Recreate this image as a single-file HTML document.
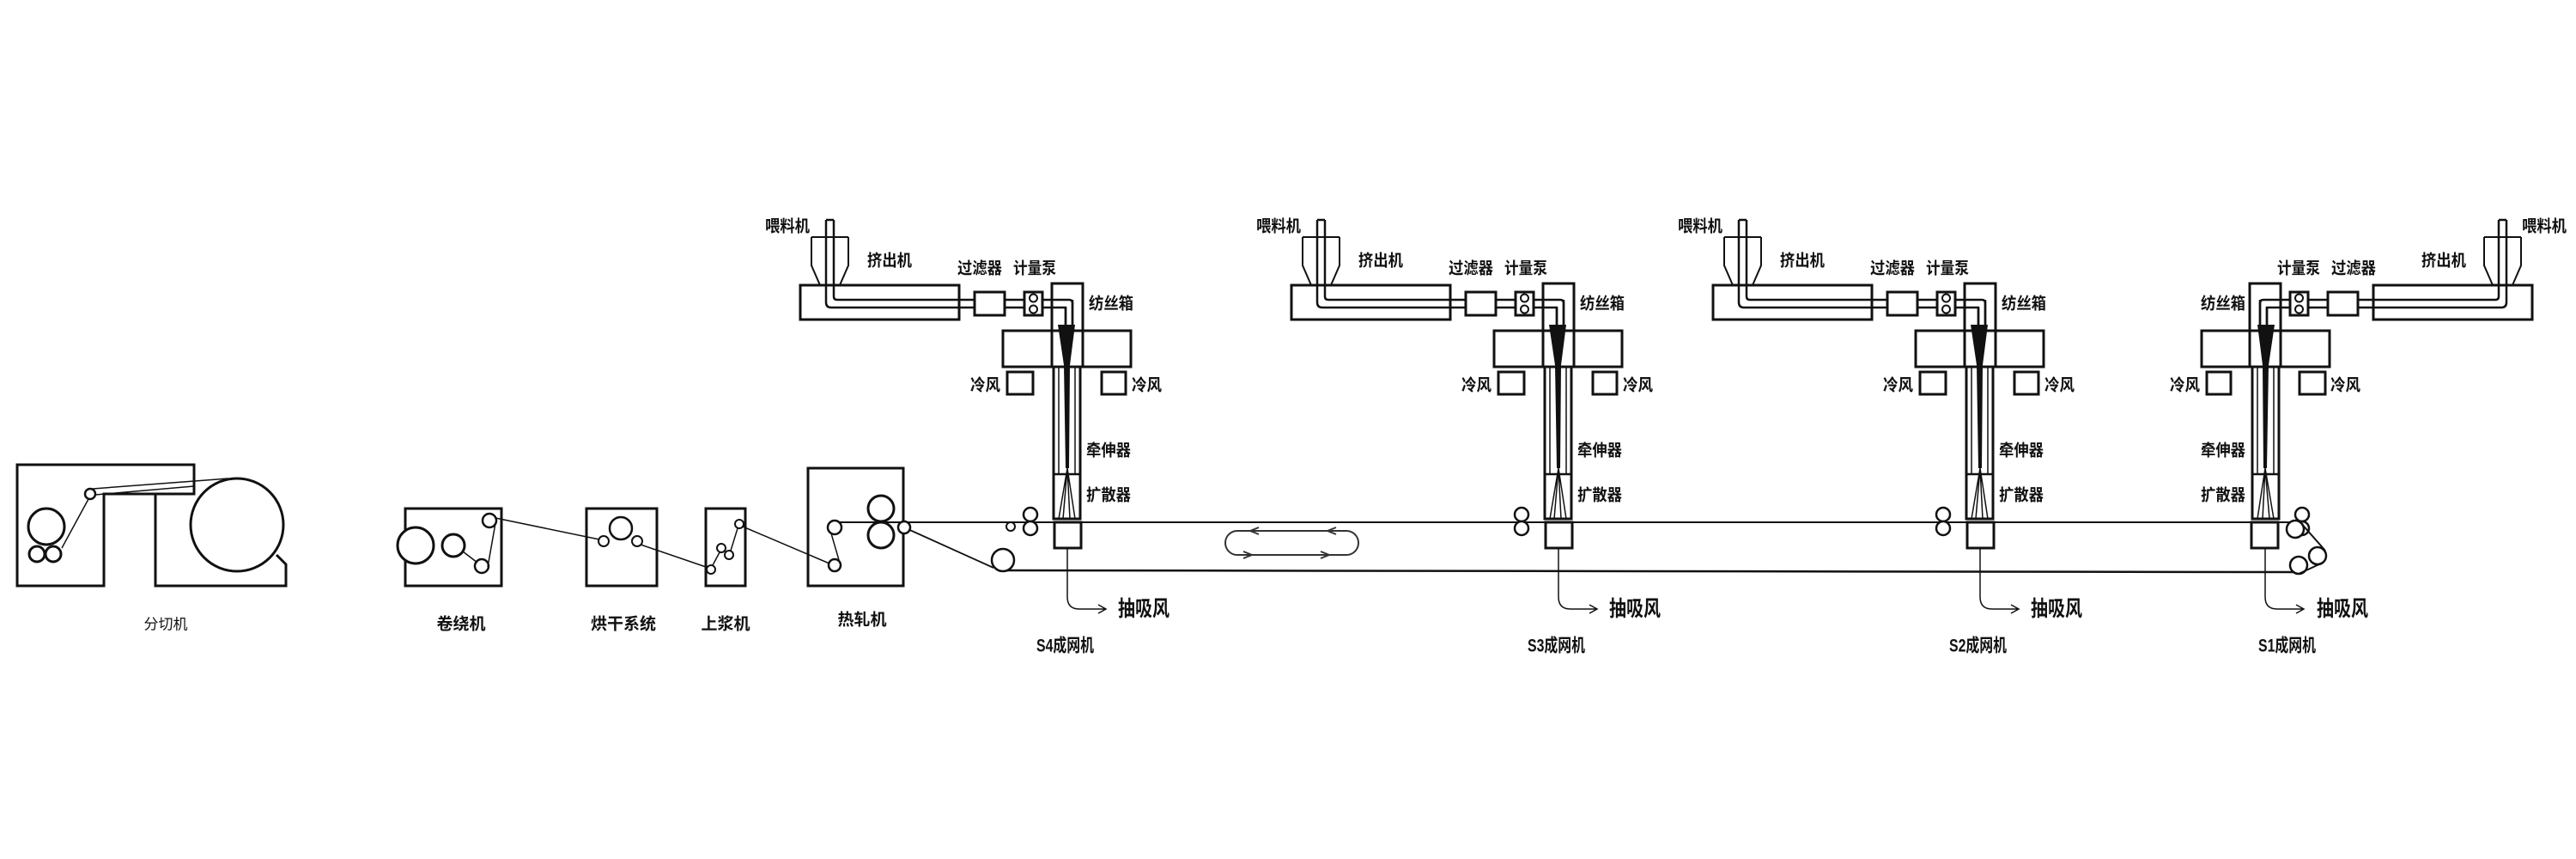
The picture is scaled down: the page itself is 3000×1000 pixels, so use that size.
<!DOCTYPE html>
<html><head><meta charset="utf-8"><style>
html,body{margin:0;padding:0;background:#fff;}
svg{display:block;}
text{font-family:"Liberation Sans","Noto Sans CJK SC","WenQuanYi Zen Hei",sans-serif;font-weight:bold;fill:#111;dominant-baseline:central;}
</style></head><body>
<svg width="3000" height="1000" viewBox="0 0 3000 1000" xmlns="http://www.w3.org/2000/svg">
<defs>
<g id="unit" fill="none" stroke="#111">
  <path d="M-298,276 L-255,276 M-298,276 L-298,309 L-288,332 M-255,276 L-255,309 L-265,332" stroke-width="2"/>
  <rect x="-311" y="332" width="185" height="40" stroke-width="3" fill="#fff"/>
  <path d="M-281,256 L-272,256 M-281,256 L-281,352 Q-281,358 -275,358 L-2,358 L-2,380 M-272,256 L-272,345 Q-272,349 -268,349 L2,349 Q6,349 6,353 L6,380" stroke-width="2.5"/>
  <rect x="-108" y="340" width="35" height="27" stroke-width="3" fill="#fff"/>
  <rect x="-50" y="340" width="21" height="27" stroke-width="3" fill="#fff"/>
  <circle cx="-39.5" cy="347" r="4.5" stroke-width="2"/>
  <circle cx="-39.5" cy="360" r="4.5" stroke-width="2"/>
  <path d="M-18,385 L-18,330 L18,330 L18,385" stroke-width="3"/>
  <path d="M-2,358 L-2,380 M6,349 L6,380" stroke-width="2.5"/>
  <rect x="-75" y="385" width="149" height="42" stroke-width="3"/>
  <path d="M-18,385 L-18,427 M18,385 L18,427" stroke-width="3"/>
  <rect x="-70" y="433" width="30" height="26" stroke-width="3"/>
  <rect x="40" y="433" width="28" height="26" stroke-width="3"/>
  <rect x="-16" y="427" width="31" height="177" stroke-width="3"/>
  <path d="M-16,552 L15,552" stroke-width="2.5"/>
  <path d="M-10,427 L-10,552 M9,427 L9,552" stroke-width="1.5"/>
  <polygon points="-11,378 9,378 3,425 2,545 -2,545 -4,425" fill="#111" stroke="none"/>
  <path d="M0,545 L-10,604 M0,545 L-5,604 M0,545 L3,604 M0,545 L9,604" stroke-width="1.5"/>
  <rect x="-15" y="608" width="31" height="30" stroke-width="3" fill="#fff"/>
  <circle cx="-43" cy="599" r="8" stroke-width="2.5" fill="#fff"/>
  <circle cx="-43" cy="615" r="8" stroke-width="2.5" fill="#fff"/>
</g>
<g id="suc" fill="none" stroke="#111">
  <path d="M0,638 L0,695 Q0,709 14,709 L45,709 M36,704 L45,709 L36,714" stroke-width="1.5"/>
</g>
</defs>

<path d="M972,608 L2673,608" stroke="#111" stroke-width="2" fill="none"/>
<path d="M1168,664 L2677,666" stroke="#111" stroke-width="2.5" fill="none"/>
<path d="M1053,614 L1157,661" stroke="#111" stroke-width="1.8" fill="none"/>

<use href="#unit" transform="translate(1243,0)"/>
<use href="#unit" transform="translate(1815,0)"/>
<use href="#unit" transform="translate(2306,0)"/>
<use href="#unit" transform="translate(2638,0) scale(-1,1)"/>
<use href="#suc" transform="translate(1243,0)"/>
<use href="#suc" transform="translate(1815,0)"/>
<use href="#suc" transform="translate(2306,0)"/>
<use href="#suc" transform="translate(2638,0)"/>

<g fill="#fff" stroke="#111" stroke-width="2.5">
  <circle cx="1177" cy="613" r="5" stroke-width="2"/>
  <circle cx="1168" cy="652" r="13"/>
  <circle cx="2673" cy="616" r="10"/>
  <circle cx="2699" cy="647" r="10"/>
  <circle cx="2677" cy="658" r="10"/>
</g>
<path d="M2678,607 L2708,641 M2703,656 L2677,668" stroke="#111" stroke-width="2" fill="none"/>

<g stroke="#333" stroke-width="2" fill="none">
  <path d="M1441,618 L1568,618 A14,14 0 0 1 1568,646 L1441,646 A14,14 0 0 1 1441,618 Z"/>
  <path d="M1466,614 L1456,618 L1466,622 M1556,614 L1546,618 L1556,622"/>
  <path d="M1448,642 L1458,646 L1448,650 M1538,642 L1548,646 L1538,650"/>
</g>

<g fill="none" stroke="#111" stroke-width="3">
  <path d="M20,541 L226,541 L226,575 L121,575 L121,682 L20,682 Z" stroke-width="3"/>
  <path d="M181,575 L226,575 M181,575 L181,682 L333,682 L333,657 L322,646" />
  <circle cx="276" cy="611" r="54" fill="#fff"/>
  <circle cx="54" cy="613" r="21"/>
  <circle cx="43" cy="645" r="9" fill="#fff"/>
  <circle cx="62" cy="645" r="9" fill="#fff"/>
  <circle cx="105" cy="575" r="6" fill="#fff" stroke-width="2.5"/>
  <path d="M108,569 L266,557 M111,576 L226,566 M103,581 L72,638" stroke-width="1.5"/>
</g>

<g fill="none" stroke="#111" stroke-width="3">
  <rect x="472" y="592" width="112" height="90"/>
  <circle cx="484" cy="635" r="21" fill="#fff"/>
  <circle cx="528" cy="635" r="13" fill="#fff"/>
  <circle cx="570" cy="606" r="8" fill="#fff" stroke-width="2.5"/>
  <circle cx="561" cy="659" r="8" fill="#fff" stroke-width="2.5"/>
  <path d="M539,642 L556,655 M568,660 L577,609 M577,603 L698,628" stroke-width="1.5"/>
</g>

<g fill="none" stroke="#111" stroke-width="3">
  <rect x="683" y="592" width="82" height="90"/>
  <circle cx="723" cy="615" r="13" stroke-width="2.5"/>
  <circle cx="703" cy="630" r="6" fill="#fff" stroke-width="2"/>
  <circle cx="742" cy="630" r="6" fill="#fff" stroke-width="2"/>
  <path d="M746,634 L825,661" stroke-width="1.5"/>
</g>

<g fill="none" stroke="#111" stroke-width="3">
  <rect x="822" y="592" width="46" height="90"/>
  <circle cx="828" cy="663" r="5" fill="#fff" stroke-width="2"/>
  <circle cx="840" cy="638" r="5" fill="#fff" stroke-width="2"/>
  <circle cx="849" cy="646" r="5" fill="#fff" stroke-width="2"/>
  <circle cx="861" cy="610" r="5" fill="#fff" stroke-width="2"/>
  <path d="M830,658 L838,643 M851,641 L859,615 M865,613 L966,656" stroke-width="1.5"/>
</g>

<g fill="none" stroke="#111" stroke-width="3">
  <rect x="941" y="545" width="111" height="137"/>
  <circle cx="1026" cy="592" r="15" fill="#fff"/>
  <circle cx="1026" cy="623" r="15" fill="#fff"/>
  <path d="M979,608 L1011,608" stroke-width="2"/>
  <circle cx="972" cy="614" r="8" fill="#fff" stroke-width="2.5"/>
  <circle cx="972" cy="658" r="7" fill="#fff" stroke-width="2.5"/>
  <circle cx="1053" cy="614" r="7" fill="#fff" stroke-width="2.5"/>
  <path d="M968,621 L977,652" stroke-width="1.5"/>
</g>

<text x="193" y="727" text-anchor="middle" font-size="17" style="font-weight:normal">分切机</text>
<text x="537" y="727" text-anchor="middle" font-size="19">卷绕机</text>
<text x="726" y="727" text-anchor="middle" font-size="19">烘干系统</text>
<text x="845" y="727" text-anchor="middle" font-size="19">上浆机</text>
<text x="1004" y="722" text-anchor="middle" font-size="19">热轧机</text>

<g font-size="19">
<text x="891" y="264" textLength="52" lengthAdjust="spacingAndGlyphs">喂料机</text>
<text x="1010" y="304" textLength="52" lengthAdjust="spacingAndGlyphs">挤出机</text>
<text x="1115" y="313" textLength="52" lengthAdjust="spacingAndGlyphs">过滤器</text>
<text x="1180" y="313" textLength="50" lengthAdjust="spacingAndGlyphs">计量泵</text>
<text x="1268" y="354" textLength="52" lengthAdjust="spacingAndGlyphs">纺丝箱</text>
<text x="1130" y="449" textLength="35" lengthAdjust="spacingAndGlyphs">冷风</text>
<text x="1318" y="449" textLength="35" lengthAdjust="spacingAndGlyphs">冷风</text>
<text x="1265" y="525" textLength="52" lengthAdjust="spacingAndGlyphs">牵伸器</text>
<text x="1265" y="577" textLength="52" lengthAdjust="spacingAndGlyphs">扩散器</text>
<text x="1302" y="709" font-size="25" textLength="60" lengthAdjust="spacingAndGlyphs">抽吸风</text>
<text x="1207" y="752" font-size="21" textLength="67" lengthAdjust="spacingAndGlyphs">S4成网机</text>
</g>
<g font-size="19">
<text x="1463" y="264" textLength="52" lengthAdjust="spacingAndGlyphs">喂料机</text>
<text x="1582" y="304" textLength="52" lengthAdjust="spacingAndGlyphs">挤出机</text>
<text x="1687" y="313" textLength="52" lengthAdjust="spacingAndGlyphs">过滤器</text>
<text x="1752" y="313" textLength="50" lengthAdjust="spacingAndGlyphs">计量泵</text>
<text x="1840" y="354" textLength="52" lengthAdjust="spacingAndGlyphs">纺丝箱</text>
<text x="1702" y="449" textLength="35" lengthAdjust="spacingAndGlyphs">冷风</text>
<text x="1890" y="449" textLength="35" lengthAdjust="spacingAndGlyphs">冷风</text>
<text x="1837" y="525" textLength="52" lengthAdjust="spacingAndGlyphs">牵伸器</text>
<text x="1837" y="577" textLength="52" lengthAdjust="spacingAndGlyphs">扩散器</text>
<text x="1874" y="709" font-size="25" textLength="60" lengthAdjust="spacingAndGlyphs">抽吸风</text>
<text x="1779" y="752" font-size="21" textLength="67" lengthAdjust="spacingAndGlyphs">S3成网机</text>
</g>
<g font-size="19">
<text x="1954" y="264" textLength="52" lengthAdjust="spacingAndGlyphs">喂料机</text>
<text x="2073" y="304" textLength="52" lengthAdjust="spacingAndGlyphs">挤出机</text>
<text x="2178" y="313" textLength="52" lengthAdjust="spacingAndGlyphs">过滤器</text>
<text x="2243" y="313" textLength="50" lengthAdjust="spacingAndGlyphs">计量泵</text>
<text x="2331" y="354" textLength="52" lengthAdjust="spacingAndGlyphs">纺丝箱</text>
<text x="2193" y="449" textLength="35" lengthAdjust="spacingAndGlyphs">冷风</text>
<text x="2381" y="449" textLength="35" lengthAdjust="spacingAndGlyphs">冷风</text>
<text x="2328" y="525" textLength="52" lengthAdjust="spacingAndGlyphs">牵伸器</text>
<text x="2328" y="577" textLength="52" lengthAdjust="spacingAndGlyphs">扩散器</text>
<text x="2365" y="709" font-size="25" textLength="60" lengthAdjust="spacingAndGlyphs">抽吸风</text>
<text x="2270" y="752" font-size="21" textLength="67" lengthAdjust="spacingAndGlyphs">S2成网机</text>
</g>
<g font-size="19">
<text x="2937" y="264" textLength="52" lengthAdjust="spacingAndGlyphs">喂料机</text>
<text x="2820" y="304" textLength="52" lengthAdjust="spacingAndGlyphs">挤出机</text>
<text x="2715" y="313" textLength="52" lengthAdjust="spacingAndGlyphs">过滤器</text>
<text x="2652" y="313" textLength="50" lengthAdjust="spacingAndGlyphs">计量泵</text>
<text x="2563" y="354" textLength="52" lengthAdjust="spacingAndGlyphs">纺丝箱</text>
<text x="2527" y="449" textLength="35" lengthAdjust="spacingAndGlyphs">冷风</text>
<text x="2714" y="449" textLength="35" lengthAdjust="spacingAndGlyphs">冷风</text>
<text x="2563" y="525" textLength="52" lengthAdjust="spacingAndGlyphs">牵伸器</text>
<text x="2563" y="577" textLength="52" lengthAdjust="spacingAndGlyphs">扩散器</text>
<text x="2698" y="709" font-size="25" textLength="60" lengthAdjust="spacingAndGlyphs">抽吸风</text>
<text x="2630" y="752" font-size="21" textLength="67" lengthAdjust="spacingAndGlyphs">S1成网机</text>
</g>
</svg>
</body></html>
